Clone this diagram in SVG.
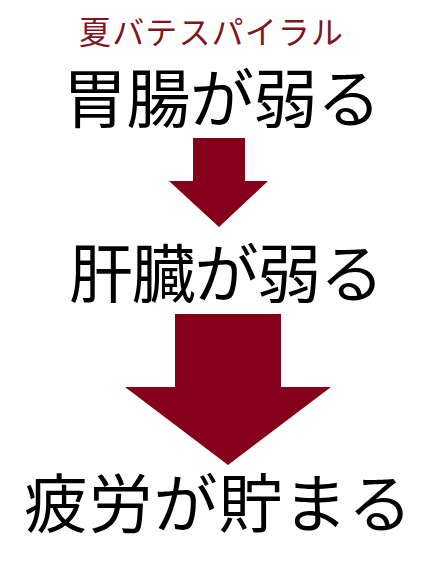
<svg xmlns="http://www.w3.org/2000/svg" width="443" height="563" viewBox="0 0 443 563">
<style>
.t{font-family:"Noto Sans CJK JP","Noto Sans CJK SC",sans-serif;fill:#000;}
.big{font-size:64px;}
.title{font-size:32px;fill:#7d1522;}
.arrow{fill:#85001a;}
</style>
<rect width="443" height="563" fill="#fff"/>
<g id="title"><text class="t title" x="79" y="44" textLength="264" lengthAdjust="spacing">夏バテスパイラル</text></g>
<g id="node1"><text class="t big" x="63" y="122" textLength="318" lengthAdjust="spacing">胃腸が弱る</text></g>
<g id="node2"><text class="t big" x="69" y="297" textLength="315" lengthAdjust="spacing">肝臓が弱る</text></g>
<g id="node3"><text class="t big" x="24" y="527" textLength="388" lengthAdjust="spacing">疲労が貯まる</text></g>
<g id="connectors">
<polygon class="arrow" points="193,138 245,138 245,181 268,181 219,227 169,181 193,181"/>
<polygon class="arrow" points="175,314 281,314 281,387 331,387 228,465 125,387 175,387"/>
</g>
</svg>
